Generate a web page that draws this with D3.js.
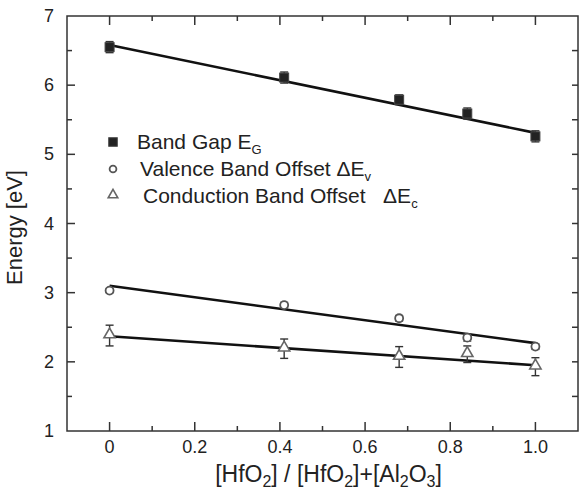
<!DOCTYPE html>
<html>
<head>
<meta charset="utf-8">
<script src="https://cdn.jsdelivr.net/npm/d3@7"></script>
<style>
  body { margin: 0; background: #fff; }
  text { font-family: "Liberation Sans", Arial, sans-serif; fill: #222; }
</style>
</head>
<body>
<div id="chart"></div>
<script>
// composition values [HfO2]/([HfO2]+[Al2O3])
var xValues = [0, 0.41, 0.68, 0.84, 1.0];

// band gap, valence band offset, conduction band offset (eV)
var bandGap = [6.55, 6.11, 5.79, 5.59, 5.26];
var bandGapErr = [0.08, 0.08, 0.07, 0.08, 0.08];
var valence = [3.03, 2.82, 2.63, 2.35, 2.22];
var valenceErr = [0.03, 0.04, 0.04, 0.05, 0.04];
var conduction = [2.38, 2.19, 2.07, 2.11, 1.93];
var conductionErr = [0.15, 0.14, 0.15, 0.12, 0.13];

// linear fits (value at x=0, value at x=1)
var bandGapFit = [6.58, 5.31];
var valenceFit = [3.10, 2.27];
var conductionFit = [2.37, 1.95];

var xTicks = [0, 0.2, 0.4, 0.6, 0.8, 1.0];
var yTicks = [1, 2, 3, 4, 5, 6, 7];

var legendLabels = [
  {text: "Band Gap E", sub: "G", marker: "square"},
  {text: "Valence Band Offset \u0394E", sub: "v", marker: "circle"},
  {text: "Conduction Band Offset \u00a0\u00a0\u0394E", sub: "c", marker: "triangle"}
];

var margin = {top: 16, right: 4, bottom: 59, left: 67},
    width = 582 - margin.left - margin.right,
    height = 490 - margin.top - margin.bottom;

var svg = d3.select("#chart").append("svg")
    .attr("width", 582)
    .attr("height", 490)
  .append("g")
    .attr("transform", "translate(" + margin.left + "," + margin.top + ")");

var x = d3.scaleLinear().domain([-0.1, 1.1]).range([0, width]);
var y = d3.scaleLinear().domain([1, 7]).range([height, 0]);

// frame
svg.append("rect")
    .attr("width", width)
    .attr("height", height)
    .attr("fill", "none")
    .attr("stroke", "#333")
    .attr("stroke-width", 1.5);

// inward ticks
var xMinor = d3.range(0, 11).map(function(i) { return i / 10; });
var yMinor = d3.range(2, 13).map(function(i) { return 1 + (i - 1) / 2; }).filter(function(v) { return v < 7; });

function isMajorX(v) { return Math.round(v * 10) % 2 === 0; }
function isMajorY(v) { return Math.abs(v - Math.round(v)) < 1e-6; }

var ticks = svg.append("g").attr("stroke", "#333").attr("stroke-width", 1.5);

ticks.selectAll(".xb").data(xMinor).enter().append("line")
    .attr("x1", function(d) { return x(d); })
    .attr("x2", function(d) { return x(d); })
    .attr("y1", height)
    .attr("y2", function(d) { return height - (isMajorX(d) ? 9 : 5); });

ticks.selectAll(".xt").data(xMinor).enter().append("line")
    .attr("x1", function(d) { return x(d); })
    .attr("x2", function(d) { return x(d); })
    .attr("y1", 0)
    .attr("y2", function(d) { return isMajorX(d) ? 9 : 5; });

ticks.selectAll(".yl").data(yMinor).enter().append("line")
    .attr("y1", function(d) { return y(d); })
    .attr("y2", function(d) { return y(d); })
    .attr("x1", 0)
    .attr("x2", function(d) { return isMajorY(d) ? 8 : 5; });

ticks.selectAll(".yr").data(yMinor).enter().append("line")
    .attr("y1", function(d) { return y(d); })
    .attr("y2", function(d) { return y(d); })
    .attr("x1", width)
    .attr("x2", width - 6);

// tick labels
svg.selectAll(".xlab").data(xTicks).enter().append("text")
    .attr("x", function(d) { return x(d); })
    .attr("y", height + 22)
    .attr("text-anchor", "middle")
    .style("font-size", "18px")
    .text(function(d) { return d === 0 ? "0" : d.toFixed(1); });

svg.selectAll(".ylab").data(yTicks).enter().append("text")
    .attr("x", -13)
    .attr("y", function(d) { return y(d) + 6; })
    .attr("text-anchor", "end")
    .style("font-size", "18px")
    .text(function(d) { return d; });

// axis titles
svg.append("text")
    .attr("transform", "translate(" + (-45) + "," + (y(4) + 4) + ") rotate(-90)")
    .attr("text-anchor", "middle")
    .style("font-size", "22px")
    .text("Energy [eV]");

var xt = svg.append("text")
    .attr("x", x(0.5) + 6)
    .attr("y", height + 51)
    .attr("text-anchor", "middle")
    .style("font-size", "23px");
[["[HfO", ""], ["2", "s"], ["] / [HfO", ""], ["2", "s"], ["]+[Al", ""], ["2", "s"], ["O", ""], ["3", "s"], ["]", ""]]
  .forEach(function(p) {
    var t = xt.append("tspan").text(p[0]);
    if (p[1] === "s") t.attr("dy", 5).style("font-size", "16px");
    else t.attr("dy", xt.node().childNodes.length > 1 ? -5 : 0);
  });

// fit lines
function fitLine(fit) {
  svg.append("line")
      .attr("x1", x(0)).attr("y1", y(fit[0]))
      .attr("x2", x(1)).attr("y2", y(fit[1]))
      .attr("stroke", "#111")
      .attr("stroke-width", 2.6);
}
fitLine(bandGapFit);
fitLine(valenceFit);
fitLine(conductionFit);

// error bars
function errorBars(vals, errs, color) {
  var g = svg.append("g").attr("stroke", color).attr("stroke-width", 1.4);
  vals.forEach(function(v, i) {
    var cx = x(xValues[i]);
    g.append("line").attr("x1", cx).attr("x2", cx).attr("y1", y(v - errs[i])).attr("y2", y(v + errs[i]));
    g.append("line").attr("x1", cx - 4).attr("x2", cx + 4).attr("y1", y(v - errs[i])).attr("y2", y(v - errs[i]));
    g.append("line").attr("x1", cx - 4).attr("x2", cx + 4).attr("y1", y(v + errs[i])).attr("y2", y(v + errs[i]));
  });
}
errorBars(bandGap, bandGapErr, "#333");
errorBars(valence, valenceErr, "#444");
errorBars(conduction, conductionErr, "#333");

// markers
function marker(g, type, cx, cy, s) {
  s = s || 1;
  if (type === "square") {
    g.append("rect").attr("x", cx - 4.5 * s).attr("y", cy - 4.5 * s).attr("width", 9 * s).attr("height", 9 * s)
        .attr("fill", "#222").attr("stroke", "#444").attr("stroke-width", 1);
  } else if (type === "circle") {
    g.append("circle").attr("cx", cx).attr("cy", cy).attr("r", 4 * s)
        .attr("fill", "#fff").attr("stroke", "#555").attr("stroke-width", 1.8);
  } else {
    g.append("path")
        .attr("d", d3.symbol().type(d3.symbolTriangle).size(55 * s * s)())
        .attr("transform", "translate(" + cx + "," + (cy - 1) + ")")
        .attr("fill", "#fff").attr("stroke", "#666").attr("stroke-width", 1.6);
  }
}
var markG = svg.append("g");
bandGap.forEach(function(v, i) { marker(markG, "square", x(xValues[i]), y(v)); });
valence.forEach(function(v, i) { marker(markG, "circle", x(xValues[i]), y(v)); });
conduction.forEach(function(v, i) { marker(markG, "triangle", x(xValues[i]), y(v)); });

// legend
var legend = svg.append("g").attr("transform", "translate(" + (113 - margin.left) + "," + (142 - margin.top) + ")");
legendLabels.forEach(function(d, i) {
  var row = legend.append("g").attr("transform", "translate(0," + i * 27 + ")");
  marker(row, d.marker, 0, 0, i === 0 ? 0.95 : 0.85);
  var t = row.append("text")
      .attr("x", 24 + i * 3)
      .attr("y", 7)
      .style("font-size", "21px");
  t.append("tspan").text(d.text);
  t.append("tspan").text(d.sub).attr("dy", 5).style("font-size", "13px");
});
</script>
</body>
</html>
